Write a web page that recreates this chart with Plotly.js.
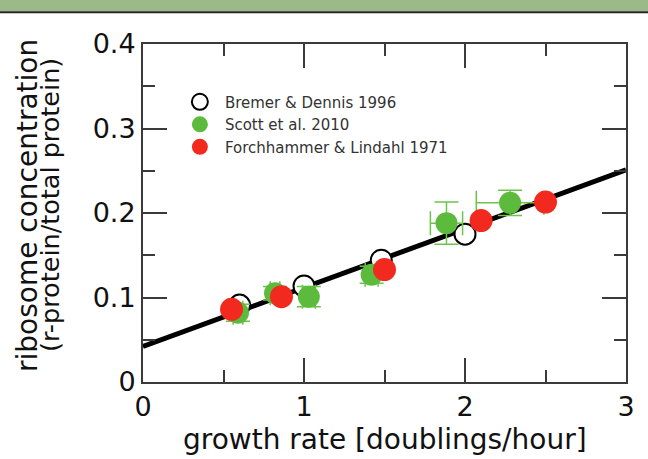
<!DOCTYPE html>
<html>
<head>
<meta charset="utf-8">
<script src="https://cdn.plot.ly/plotly-3.0.1.min.js"></script>
<style>html,body{margin:0;padding:0;background:#fff}#chart{width:648px;height:459px}</style>
</head>
<body>
<div id="chart"></div>
<script>
// Bremer & Dennis 1996 (open circles)
const bremerX = [0.60, 1.00, 1.48, 2.00];
const bremerY = [0.091, 0.1135, 0.144, 0.175];
// Scott et al. 2010 (green, with error bars)
const scottX = [0.59, 0.82, 1.03, 1.42, 1.885, 2.28];
const scottY = [0.082, 0.105, 0.101, 0.127, 0.188, 0.212];
const scottYErr = [0.010, 0.008, 0.012, 0.010, 0.025, 0.015];
const scottXErr = [0.03, 0.03, 0.04, 0.04, 0.10, 0.21];
// Forchhammer & Lindahl 1971 (red)
const forchX = [0.55, 0.86, 1.50, 2.10, 2.50];
const forchY = [0.086, 0.101, 0.133, 0.191, 0.213];
// fitted line end points
const fitX = [0, 3];
const fitY = [0.042, 0.251];

const xTickVals = [0, 1, 2, 3];
const xTickText = ['0', '1', '2', '3'];
const yTickVals = [0, 0.1, 0.2, 0.3, 0.4];
const yTickText = ['0', '0.1', '0.2', '0.3', '0.4'];

const FONT = 'DejaVu Sans, Liberation Sans, Arial, sans-serif';

const traces = [
  {x: fitX, y: fitY, mode: 'lines', line: {color: '#000', width: 5}, showlegend: false, hoverinfo: 'skip'},
  {x: bremerX, y: bremerY, mode: 'markers', name: 'Bremer &amp; Dennis 1996',
   marker: {symbol: 'circle', size: 21, color: '#ffffff', line: {color: '#000', width: 2}}},
  {x: scottX, y: scottY, mode: 'markers', name: 'Scott et al. 2010',
   marker: {symbol: 'circle', size: 22, color: '#5cbb3c'},
   error_y: {type: 'data', array: scottYErr, color: '#6cc44c', thickness: 1.5, width: 12},
   error_x: {type: 'data', array: scottXErr, color: '#6cc44c', thickness: 1.5, width: 12}},
  {x: forchX, y: forchY, mode: 'markers', name: 'Forchhammer &amp; Lindahl 1971',
   marker: {symbol: 'circle', size: 23, color: '#f2291e'}}
];

const axisCommon = {
  showline: true, linecolor: '#3a3a3a', linewidth: 2, mirror: 'allticks',
  ticks: 'inside', tickcolor: '#3a3a3a', tickwidth: 2, ticklen: 24,
  showgrid: false, zeroline: false,
  tickfont: {family: FONT, size: 27, color: '#111'}
};

const layout = {
  width: 648, height: 459,
  margin: {l: 143, r: 22, t: 44, b: 77, pad: 0},
  paper_bgcolor: '#ffffff', plot_bgcolor: '#ffffff',
  font: {family: FONT, color: '#111'},
  xaxis: Object.assign({}, axisCommon, {
    range: [0, 3], tickvals: xTickVals, ticktext: xTickText,
    minor: {dtick: 0.5, ticks: 'inside', ticklen: 12, tickwidth: 2, tickcolor: '#3a3a3a'}
  }),
  yaxis: Object.assign({}, axisCommon, {
    range: [0, 0.4], tickvals: yTickVals, ticktext: yTickText,
    minor: {dtick: 0.05, ticks: 'inside', ticklen: 12, tickwidth: 2, tickcolor: '#3a3a3a'}
  }),
  showlegend: true,
  legend: {
    x: 0.066, y: 0.877, xanchor: 'left', yanchor: 'top',
    bgcolor: 'rgba(0,0,0,0)', borderwidth: 0,
    font: {family: FONT, size: 15, color: '#333'},
    itemwidth: 40, traceorder: 'normal'
  },
  annotations: [
    {text: 'growth rate [doublings/hour]', xref: 'paper', yref: 'paper', x: 0.5, y: -0.171,
     xanchor: 'center', yanchor: 'middle', showarrow: false, font: {family: FONT, size: 28, color: '#111'}},
    {text: 'ribosome concentration', xref: 'paper', yref: 'paper', x: 0, y: 0.5, xshift: -116, yshift: 7,
     textangle: -90, xanchor: 'center', yanchor: 'middle', showarrow: false, font: {family: FONT, size: 28, color: '#111'}},
    {text: '(r-protein/total protein)', xref: 'paper', yref: 'paper', x: 0, y: 0.5, xshift: -93, yshift: 8,
     textangle: -90, xanchor: 'center', yanchor: 'middle', showarrow: false, font: {family: FONT, size: 25.5, color: '#111'}}
  ],
  shapes: [
    {type: 'rect', xref: 'paper', yref: 'paper', x0: -0.3, x1: 1.06, y0: 1.097, y1: 1.14,
     fillcolor: '#9cb98a', line: {width: 0}, layer: 'above'},
    {type: 'line', xref: 'paper', yref: 'paper', x0: -0.3, x1: 1.06, y0: 1.094, y1: 1.094,
     line: {color: '#222', width: 2}, layer: 'above'}
  ]
};

Plotly.newPlot('chart', traces, layout, {staticPlot: true, displayModeBar: false});
</script>
</body>
</html>
